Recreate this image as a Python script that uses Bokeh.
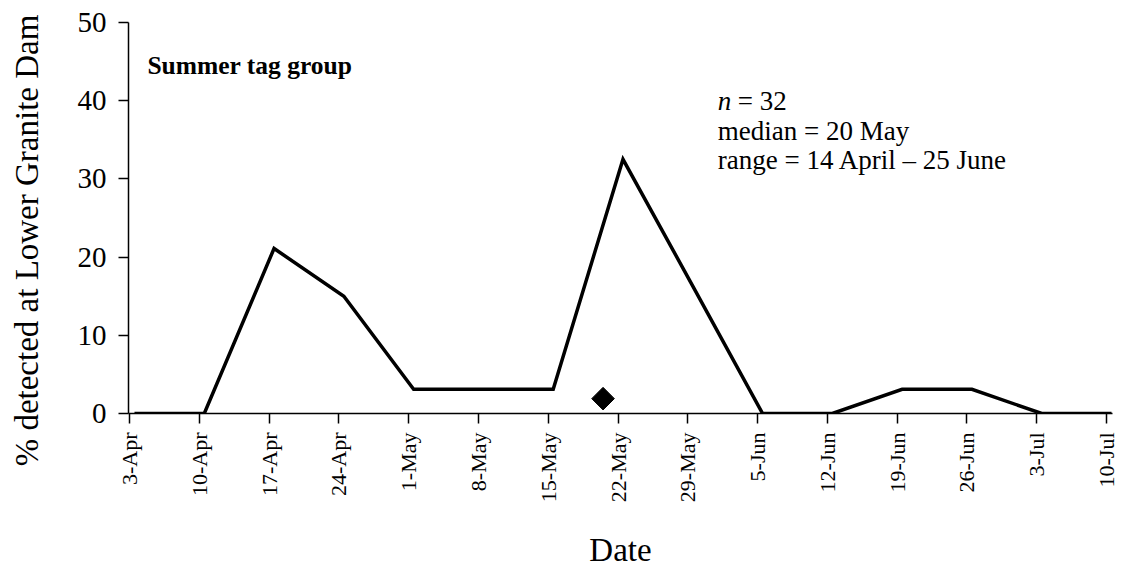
from datetime import datetime
from math import pi

from bokeh.plotting import figure
from bokeh.layouts import row
from bokeh.models import Range1d, FixedTicker, Label
from bokeh.embed import file_html
from bokeh.resources import INLINE

# Weekly detection series (percent of tagged fish detected at Lower Granite Dam)
week_labels = ["3-Apr", "10-Apr", "17-Apr", "24-Apr", "1-May", "8-May", "15-May",
               "22-May", "29-May", "5-Jun", "12-Jun", "19-Jun", "26-Jun", "3-Jul", "10-Jul"]
pct_detected = [0, 0, 21.1, 15.0, 3.1, 3.1, 3.1, 32.5, 16.3, 0, 0, 3.1, 3.1, 0, 0]

# Median passage date, drawn as a marker near the baseline
median_label = "20-May"
median_marker_y = [1.9]

y_ticks = [0, 10, 20, 30, 40, 50]

YEAR = 2008
SERIF = "Liberation Serif"
TOTAL_W, TOTAL_H = 1139, 571
TITLE_W = 48


def to_day(lbl):
    d = datetime.strptime(f"{lbl}-{YEAR}", "%d-%b-%Y")
    d0 = datetime.strptime(f"{week_labels[0]}-{YEAR}", "%d-%b-%Y")
    return (d - d0).days


tick_days = [to_day(w) for w in week_labels]
# points sit at mid-day of each date
point_days = [d + 0.5 for d in tick_days]
median_day = [to_day(median_label) + 0.5]

# narrow strip carrying the vertical axis title (its frame fills the whole strip)
strip = figure(width=TITLE_W, height=TOTAL_H, output_backend="svg", toolbar_location=None,
               x_range=Range1d(0, 1), y_range=Range1d(0, 1),
               x_axis_type=None, y_axis_type=None, frame_align=False,
               min_border=0, min_border_left=0, min_border_right=0,
               min_border_top=0, min_border_bottom=0)
strip.outline_line_color = None
strip.xgrid.visible = False
strip.ygrid.visible = False
strip.add_layout(Label(x=26, y=TOTAL_H - 240, x_units="screen", y_units="screen",
                       angle=pi / 2, text="% detected at Lower Granite Dam",
                       text_font=SERIF, text_font_size="33px", text_color="black",
                       text_align="center", text_baseline="middle"))

p = figure(width=TOTAL_W - TITLE_W, height=TOTAL_H, output_backend="svg",
           toolbar_location=None, frame_align=False,
           x_range=Range1d(-0.1, 98.6), y_range=Range1d(0, 50),
           min_border_left=128 - TITLE_W, min_border_right=27, min_border_top=22,
           min_border_bottom=157)
p.outline_line_color = None
p.xgrid.visible = False
p.ygrid.visible = False
p.background_fill_color = "white"
p.border_fill_color = "white"

p.line(point_days, pct_detected, line_color="black", line_width=3.5, line_join="miter")
p.scatter(median_day, median_marker_y, marker="square", angle=pi / 4, size=16,
          fill_color="black", line_color="black")

# axes
xa = p.xaxis[0]
xa.ticker = FixedTicker(ticks=tick_days)
xa.major_label_overrides = {d: w for d, w in zip(tick_days, week_labels)}
xa.major_label_orientation = pi / 2
xa.major_label_text_font = SERIF
xa.major_label_text_font_size = "22px"
xa.major_label_text_color = "black"
xa.major_label_standoff = 9
xa.major_tick_out = 10
xa.major_tick_in = 0
xa.minor_tick_out = 0
xa.minor_tick_in = 0
xa.axis_line_color = "black"
xa.axis_line_width = 1.5
xa.major_tick_line_color = "black"
xa.major_tick_line_width = 1.5
xa.axis_label = "Date"
xa.axis_label_text_font = SERIF
xa.axis_label_text_font_size = "33px"
xa.axis_label_text_font_style = "normal"
xa.axis_label_text_color = "black"
xa.axis_label_standoff = 27

ya = p.yaxis[0]
ya.ticker = FixedTicker(ticks=y_ticks)
ya.major_label_text_font = SERIF
ya.major_label_text_font_size = "29px"
ya.major_label_text_color = "black"
ya.major_label_standoff = 12
ya.major_tick_out = 10
ya.major_tick_in = 0
ya.minor_tick_out = 0
ya.minor_tick_in = 0
ya.axis_line_color = "black"
ya.axis_line_width = 1.5
ya.major_tick_line_color = "black"
ya.major_tick_line_width = 1.5

# annotations
p.add_layout(Label(x=1.8, y=42.6, text="Summer tag group", text_font=SERIF,
                   text_font_size="25.5px", text_font_style="bold", text_color="black"))

ann_x = 59.0
ann_top = 38.1
ann_step = 3.83
p.add_layout(Label(x=ann_x, y=ann_top, text="n", text_font=SERIF,
                   text_font_size="27px", text_font_style="italic", text_color="black"))
p.add_layout(Label(x=ann_x, y=ann_top, x_offset=20, text="= 32", text_font=SERIF,
                   text_font_size="27px", text_color="black"))
p.add_layout(Label(x=ann_x, y=ann_top - ann_step, text="median = 20 May", text_font=SERIF,
                   text_font_size="27px", text_color="black"))
p.add_layout(Label(x=ann_x, y=ann_top - 2 * ann_step, text="range = 14 April \u2013 25 June",
                   text_font=SERIF, text_font_size="27px", text_color="black"))

layout = row(strip, p, spacing=0)
open("out.html", "w").write(file_html(layout, INLINE))
